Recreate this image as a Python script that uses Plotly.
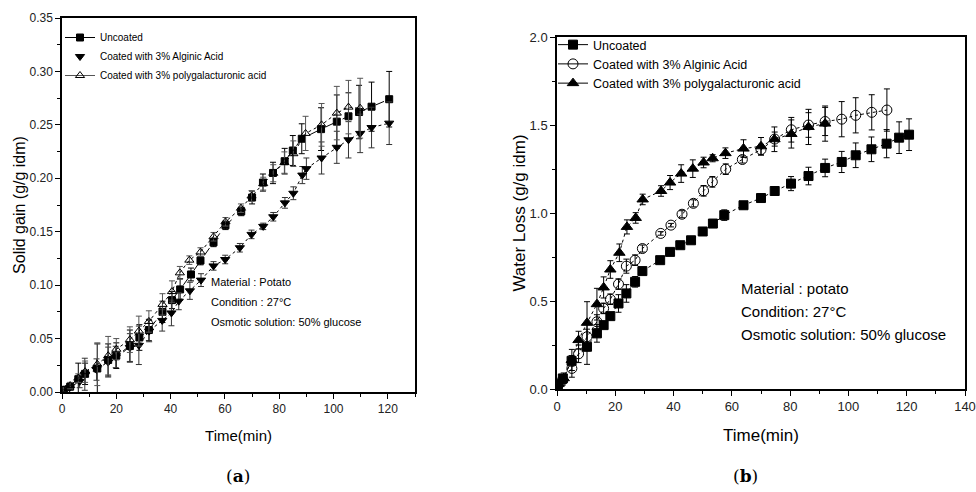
import plotly.graph_objects as go

# ---------------- Panel (a): Solid gain ----------------
a_unc_x = [0.5, 3, 6, 8.5, 13, 17, 20, 25, 28.5, 32, 37, 40.5, 43.5, 47.5, 51, 55.8, 60.2, 66, 70, 74,
           77.7, 82, 85, 88.3, 95.4, 101.2, 105.5, 109.4, 114, 120.5]
a_unc_y = [0.002, 0.005, 0.012, 0.017, 0.022, 0.030, 0.034, 0.043, 0.051, 0.058, 0.075, 0.086, 0.096, 0.110,
           0.123, 0.140, 0.156, 0.169, 0.182, 0.196, 0.205, 0.216, 0.226, 0.237, 0.246, 0.253, 0.258, 0.262,
           0.267, 0.274]
a_unc_e = [0.002, 0.003, 0.015, 0.010, 0.023, 0.015, 0.012, 0.015, 0.012, 0.010, 0.010, 0.008, 0.010, 0.006,
           0.004, 0.004, 0.004, 0.004, 0.006, 0.008, 0.010, 0.012, 0.014, 0.014, 0.020, 0.025, 0.022, 0.025,
           0.023, 0.026]

a_alg_x = [0.6, 2.8, 6.5, 8.4, 12.7, 17, 19.8, 25, 28.3, 32.1, 36.9, 40.3, 43, 47.1, 51.2, 55.8, 60.1, 65.5,
           69.8, 74.1, 77.8, 82.1, 85.2, 88.5, 90, 95.6, 101.2, 105.5, 109.8, 114, 120.5]
a_alg_y = [0.001, 0.004, 0.010, 0.0166, 0.021, 0.028, 0.0328, 0.0416, 0.0437, 0.057, 0.067, 0.074, 0.085,
           0.0947, 0.1047, 0.118, 0.124, 0.135, 0.1475, 0.155, 0.164, 0.177, 0.186, 0.203, 0.209, 0.219, 0.229,
           0.236, 0.242, 0.2475, 0.2516]
a_alg_e = [0.001, 0.002, 0.006, 0.015, 0.010, 0.014, 0.010, 0.013, 0.018, 0.010, 0.010, 0.012, 0.008, 0.008,
           0.006, 0.004, 0.004, 0.004, 0.004, 0.003, 0.004, 0.005, 0.006, 0.008, 0.010, 0.015, 0.015, 0.017,
           0.018, 0.019, 0.020]

a_pga_x = [0.5, 3, 6, 8.5, 13, 17, 20, 25, 28.3, 32, 37, 40.5, 43.4, 46.9, 51, 55.8, 60.2, 65.9, 69.8, 74.1,
           77.8, 81.9, 85.2, 89.7, 95.6, 101.2, 105.5, 109.8]
a_pga_y = [0.002, 0.006, 0.013, 0.019, 0.026, 0.034, 0.040, 0.049, 0.057, 0.066, 0.082, 0.094, 0.1115, 0.1234,
           0.131, 0.1453, 0.1593, 0.172, 0.1834, 0.195, 0.2047, 0.2147, 0.223, 0.242, 0.250, 0.261, 0.2666,
           0.2656]
a_pga_e = [0.002, 0.003, 0.004, 0.010, 0.020, 0.018, 0.010, 0.012, 0.014, 0.010, 0.010, 0.010, 0.006, 0.004,
           0.004, 0.004, 0.004, 0.004, 0.005, 0.006, 0.008, 0.010, 0.012, 0.016, 0.020, 0.025, 0.025, 0.028]

# ---------------- Panel (b): Water loss ----------------
b_unc_x = [0.3, 2, 5, 10.3, 13.7, 16, 18.3, 21.1, 23.8, 26.8, 29.3, 35.4, 38.8, 42.3, 46, 50, 53.5, 57.4, 64,
           70, 74.7, 80.3, 86.3, 92, 97.7, 102.5, 107.9, 113.1, 117.4, 120.8]
b_unc_y = [0.02, 0.06, 0.16, 0.24, 0.316, 0.363, 0.414, 0.486, 0.543, 0.609, 0.67, 0.732, 0.779, 0.817, 0.845,
           0.895, 0.94, 0.988, 1.044, 1.085, 1.125, 1.167, 1.21, 1.256, 1.29, 1.328, 1.362, 1.394, 1.428, 1.445]
b_unc_e = [0.02, 0.02, 0.03, 0.10, 0.05, 0.02, 0.02, 0.05, 0.05, 0.03, 0.02, 0.01, 0.01, 0.01, 0.01, 0.01,
           0.01, 0.03, 0.02, 0.01, 0.02, 0.04, 0.05, 0.05, 0.06, 0.07, 0.07, 0.08, 0.09, 0.09]

b_alg_x = [0.3, 1.9, 5.1, 7.4, 10.3, 13.7, 16, 18.3, 21.1, 23.8, 26.8, 29.3, 35.6, 39.1, 42.9, 46.8, 50.3, 53.3,
           57.9, 63.6, 70, 74.7, 80.4, 86.3, 92, 97.7, 102.5, 108, 113.2]
b_alg_y = [0.02, 0.051, 0.117, 0.2, 0.297, 0.382, 0.458, 0.51, 0.596, 0.698, 0.732, 0.798, 0.884, 0.931, 0.993,
           1.055, 1.126, 1.177, 1.249, 1.304, 1.36, 1.42, 1.473, 1.50, 1.52, 1.533, 1.555, 1.572, 1.585]
b_alg_e = [0.02, 0.03, 0.05, 0.05, 0.08, 0.04, 0.03, 0.03, 0.03, 0.04, 0.03, 0.02, 0.01, 0.01, 0.02, 0.02,
           0.03, 0.03, 0.03, 0.02, 0.03, 0.04, 0.07, 0.07, 0.08, 0.10, 0.10, 0.10, 0.12]

b_pga_x = [0.5, 2.3, 5.1, 7.4, 10.3, 13.7, 16, 18.3, 21.4, 24, 27, 29.4, 35.7, 38.8, 42.6, 46.6, 50.3, 53.4,
           57.8, 64, 70, 74.6, 80.4, 86.3, 92]
b_pga_y = [0.028, 0.061, 0.165, 0.278, 0.376, 0.482, 0.577, 0.679, 0.774, 0.921, 0.972, 1.077, 1.125, 1.173,
           1.224, 1.252, 1.287, 1.311, 1.34, 1.366, 1.379, 1.419, 1.449, 1.489, 1.508]
b_pga_e = [0.02, 0.03, 0.06, 0.05, 0.12, 0.09, 0.06, 0.05, 0.05, 0.04, 0.03, 0.03, 0.03, 0.04, 0.05, 0.05,
           0.03, 0.02, 0.03, 0.05, 0.05, 0.07, 0.08, 0.10, 0.10]

series_names_a = ["Uncoated", "Coated with 3% Alginic Acid", "Coated with 3% polygalacturonic acid"]
series_names_b = ["Uncoated", "Coated with 3% Alginic Acid", "Coated with 3% polygalacturonic acid"]

FONT = "Liberation Sans, Arial, sans-serif"
W, H = 976, 492


def px(x):
    return x / W


def py(y):
    return 1 - y / H


fig = go.Figure()


def add(x, y, e, symbol, size, xa, ya, dash, lcolor="black", mcolor="black", ecolor="black"):
    fig.add_trace(go.Scatter(
        x=x, y=y, mode="lines+markers", xaxis=xa, yaxis=ya, showlegend=False,
        line=dict(color=lcolor, width=1, dash=dash),
        marker=dict(symbol=symbol, size=size, color=mcolor, line=dict(color="black", width=1)),
        error_y=dict(type="data", array=e, visible=True, color=ecolor, thickness=1, width=3),
    ))


def leg(name, mode, symbol, size, legend, lcolor="black"):
    fig.add_trace(go.Scatter(
        x=[None], y=[None], mode=mode, name=name, legend=legend, xaxis="x", yaxis="y",
        line=dict(color=lcolor, width=1),
        marker=dict(symbol=symbol, size=size, color="black", line=dict(color="black", width=1)),
    ))


# panel a
add(a_unc_x, a_unc_y, a_unc_e, "square", 7, "x", "y", "dash")
add(a_alg_x, a_alg_y, a_alg_e, "triangle-down", 8, "x", "y", "dot", ecolor="#333333")
add(a_pga_x, a_pga_y, a_pga_e, "triangle-up-open", 8, "x", "y", "dot", ecolor="#555555")
# panel b
add(b_unc_x, b_unc_y, b_unc_e, "square", 9, "x2", "y2", "dot")
add(b_alg_x, b_alg_y, b_alg_e, "circle-open", 10, "x2", "y2", "dot")
add(b_pga_x, b_pga_y, b_pga_e, "triangle-up", 10, "x2", "y2", "dot")

leg(series_names_a[0], "lines+markers", "square", 7, "legend")
leg(series_names_a[1], "markers", "triangle-down", 8, "legend")
leg(series_names_a[2], "lines+markers", "triangle-up-open", 8, "legend", lcolor="#555555")
leg(series_names_b[0], "lines+markers", "square", 9, "legend2")
leg(series_names_b[1], "lines+markers", "circle-open", 10, "legend2")
leg(series_names_b[2], "lines+markers", "triangle-up", 10, "legend2")


def axis(rng, dtick, mdtick, title, domain, anchor, tsize, ttsize, standoff, fmt=None):
    d = dict(domain=domain, range=rng, dtick=dtick, anchor=anchor, automargin=False,
             showgrid=False, zeroline=False, showline=True, linecolor="black", linewidth=1.5,
             mirror=True, ticks="outside", ticklen=5, tickcolor="black", tickwidth=1.2,
             tickfont=dict(family=FONT, size=tsize, color="#222"),
             minor=dict(ticks="outside", ticklen=3, dtick=mdtick, tickcolor="black"),
             title=dict(text=title, font=dict(family=FONT, size=ttsize), standoff=standoff))
    if fmt:
        d["tickformat"] = fmt
    return d


fig.update_layout(
    width=W, height=H, paper_bgcolor="white", plot_bgcolor="white",
    margin=dict(l=0, r=0, t=0, b=0, autoexpand=False),
    font=dict(family=FONT, color="black"),
    xaxis=axis([0, 130], 20, 10, "Time(min)", [px(62), px(415)], "y", 12, 15, 15),
    yaxis=axis([0, 0.35], 0.05, 0.025, "Solid gain (g/g idm)", [py(392), py(18)], "x", 12, 16, 0, ".2f"),
    xaxis2=axis([0, 140], 20, 10, "Time(min)", [px(557), px(965)], "y2", 13, 17, 16),
    yaxis2=axis([0, 2.0], 0.5, 0.25, "Water Loss (g/g idm)", [py(389), py(37)], "x2", 13, 17, 0, ".1f"),
    legend=dict(x=px(60), y=py(23), xanchor="left", yanchor="top", bgcolor="rgba(0,0,0,0)",
                font=dict(family=FONT, size=10), tracegroupgap=0, itemwidth=30),
    legend2=dict(x=px(553), y=py(30), xanchor="left", yanchor="top", bgcolor="rgba(0,0,0,0)",
                 font=dict(family=FONT, size=12.5), tracegroupgap=0, itemwidth=30),
)

notes_a = ["Material : Potato", "Condition : 27°C", "Osmotic solution: 50% glucose"]
notes_b = ["Material : potato", "Condition: 27°C", "Osmotic solution: 50% glucose"]
for i, t in enumerate(notes_a):
    fig.add_annotation(text=t, xref="paper", yref="paper", x=px(209), y=py(282 + 20 * i),
                       xanchor="left", yanchor="middle", showarrow=False, font=dict(family=FONT, size=11))
for i, t in enumerate(notes_b):
    fig.add_annotation(text=t, xref="paper", yref="paper", x=px(739), y=py(288 + 23 * i),
                       xanchor="left", yanchor="middle", showarrow=False, font=dict(family=FONT, size=15))

for t, xc in [("(<b>a</b>)", 238), ("(<b>b</b>)", 745)]:
    fig.add_annotation(text=t, xref="paper", yref="paper", x=px(xc), y=py(476),
                       xanchor="center", yanchor="middle", showarrow=False,
                       font=dict(family="DejaVu Serif, Liberation Serif, serif", size=17))

# remove the default page margin so the 976x492 figure fills the window exactly
fig.write_html("out.html", config={"displayModeBar": False},
               post_script="document.body.style.margin='0px';document.body.style.overflow='hidden';")
